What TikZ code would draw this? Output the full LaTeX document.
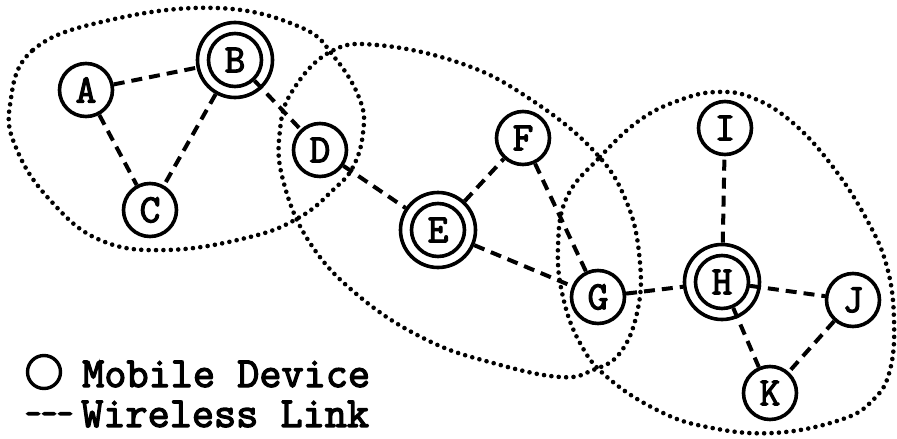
\documentclass[tikz,border=0pt]{standalone}
\usepackage{fontspec}
\newfontfamily\labelfont{Latin Modern Mono}[FakeBold=3]
\newfontfamily\dashfont{Latin Modern Mono}[FakeBold=5]
\begin{document}
\begin{tikzpicture}[x=1pt,y=-1pt,
  device/.style={circle,draw,line width=3.6pt,minimum size=53pt,inner sep=0pt,
    font=\labelfont\fontsize{40}{42}\selectfont},
  ring/.style={circle,draw,line width=3.6pt,minimum size=75pt,inner sep=0pt},
  link/.style={line width=4pt,dash pattern=on 11pt off 7pt},
  zone/.style={line width=4.6pt,line cap=round,dash pattern=on 0pt off 7.4pt},
  legendtext/.style={anchor=west,inner sep=0pt,
    font=\labelfont\fontsize{43}{45}\selectfont}]
\useasboundingbox (0,0) rectangle (897,439);

% mobile devices
\node[device] (A) at (86,90) {A};
\node[device] (B) at (235,60) {B};
\node[ring]   (Bo) at (235,60) {};
\node[device] (C) at (150,210) {C};
\node[device] (D) at (320,150) {D};
\node[device] (E) at (438,230) {E};
\node[ring]   (Eo) at (438,230) {};
\node[device] (F) at (523,138) {F};
\node[device] (G) at (598,297) {G};
\node[device] (H) at (722,282) {H};
\node[ring]   (Ho) at (722,282) {};
\node[device] (I) at (725,128) {I};
\node[device] (J) at (853,300) {J};
\node[device] (K) at (770,393) {K};

% wireless links
\draw[link] (A) -- (Bo);
\draw[link] (A) -- (C);
\draw[link] (Bo) -- (C);
\draw[link] (B) -- (D);
\draw[link] (D) -- (Eo);
\draw[link] (Eo) -- (F);
\draw[link] (Eo) -- (G);
\draw[link] (F) -- (G);
\draw[link] (G) -- (Ho);
\draw[link] (Ho) -- (I);
\draw[link] (H) -- (J);
\draw[link] (H) -- (K);
\draw[link] (J) -- (K);

% coverage zones
\draw[zone] plot[smooth cycle,tension=0.7] coordinates {
  (10,105) (33,50) (110,20) (217,8) (300,27) (335,58) (360,100) (363,133)
  (353,167) (333,190) (300,217) (250,237) (167,250) (100,240) (50,200) (17,150)};
\draw[zone] plot[smooth cycle,tension=0.7] coordinates {
  (330,52) (377,45) (460,63) (527,97) (593,150) (627,203) (640,263) (637,313)
  (620,353) (593,370) (560,377) (493,363) (427,340) (360,297) (310,243)
  (283,180) (280,130) (293,90)};
\draw[zone] plot[smooth cycle,tension=0.7] coordinates {
  (567,197) (600,157) (640,120) (680,100) (717,92) (753,98) (793,123) (833,167)
  (867,220) (887,267) (894,320) (890,370) (873,400) (840,420) (773,433)
  (707,427) (657,410) (607,377) (580,343) (563,297) (558,247)};

% legend
\node[circle,draw,line width=3.4pt,minimum size=33pt,inner sep=0pt] (legcirc) at (44,372) {};
\node[legendtext] (legdev) at (82,374) {Mobile Device};
\node[anchor=west,inner sep=0pt,font=\dashfont\fontsize{31}{33}\selectfont]
  (legdash) at (25,418) {-{}-{}-};
\node[legendtext] (leglink) at (81,414) {Wireless Link};
\end{tikzpicture}
\end{document}
